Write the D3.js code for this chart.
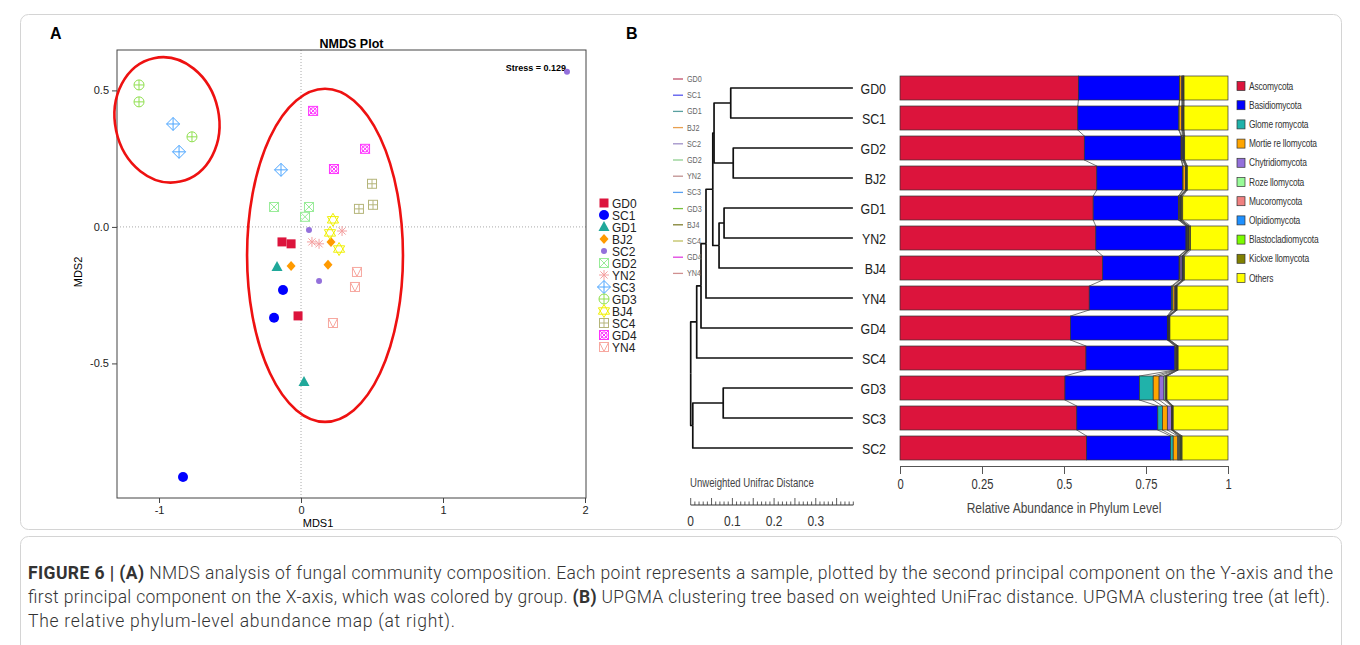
<!DOCTYPE html>
<html>
<head>
<meta charset="utf-8">
<script src="https://cdn.jsdelivr.net/npm/d3@7"></script>
<style>
  body { margin: 0; background: #fff; }
  svg { display: block; font-family: "Liberation Sans", Arial, sans-serif; }
  .cap { font-family: Roboto, "Liberation Sans", sans-serif; font-weight: 300; fill: #333; }
</style>
</head>
<body>
<svg id="fig" width="1360" height="645"></svg>
<script>
// ---------- panel A: NMDS ----------
const groups = ["GD0","SC1","GD1","BJ2","SC2","GD2","YN2","SC3","GD3","BJ4","SC4","GD4","YN4"];
const ptGroup = ["GD0","GD0","GD0","SC1","SC1","SC1","GD1","GD1","BJ2","BJ2","BJ2",
  "SC2","SC2","SC2","GD2","GD2","GD2","YN2","YN2","YN2","SC3","SC3","SC3",
  "GD3","GD3","GD3","BJ4","BJ4","BJ4","SC4","SC4","SC4","GD4","GD4","GD4","YN4","YN4","YN4"];
const ptMDS1 = [-0.134,-0.070,-0.021, -0.127,-0.190,-0.831, -0.169,0.021, 0.211,-0.070,0.190,
  0.056,0.127,1.873, -0.190,0.056,0.028, 0.289,0.077,0.127, -0.901,-0.859,-0.141,
  -1.141,-1.141,-0.768, 0.225,0.204,0.268, 0.500,0.408,0.507, 0.085,0.451,0.232, 0.394,0.380,0.225];
const ptMDS2 = [-0.055,-0.062,-0.326, -0.231,-0.333,-0.916, -0.147,-0.568, -0.055,-0.143,-0.139,
  -0.011,-0.198,0.568, 0.073,0.073,0.037, -0.015,-0.055,-0.062, 0.377,0.275,0.209,
  0.520,0.458,0.330, 0.026,-0.022,-0.081, 0.158,0.066,0.081, 0.425,0.286,0.212, -0.165,-0.220,-0.352];
const xTicksA = [-1, 0, 1, 2];
const yTicksA = [-0.5, 0, 0.5];
const stressLabel = "Stress = 0.129";
// hand-drawn group ellipses (data units)
const ellCx = [-0.944, 0.169], ellCy = [0.392, -0.104], ellRx = [0.366, 0.549], ellRy = [0.231, 0.610], ellRot = [-12, 0];

// ---------- panel B: tree + stacked bars ----------
const samples = ["GD0","SC1","GD2","BJ2","GD1","YN2","BJ4","YN4","GD4","SC4","GD3","SC3","SC2"];
const phyla = ["Ascomycota","Basidiomycota","Glomeromycota","Mortierellomycota","Chytridiomycota",
  "Rozellomycota","Mucoromycota","Olpidiomycota","Blastocladiomycota","Kickxellomycota","Others"];
const phylaLabels = ["Ascomycota","Basidiomycota","Glome romycota","Mortie re llomycota","Chytridiomycota",
  "Roze llomycota","Mucoromycota","Olpidiomycota","Blastocladiomycota","Kickxe llomycota","Others"];
const ascomycota        = [0.544,0.542,0.562,0.600,0.589,0.597,0.618,0.577,0.520,0.567,0.503,0.539,0.569];
const basidiomycota     = [0.308,0.308,0.295,0.262,0.260,0.275,0.233,0.251,0.295,0.271,0.227,0.247,0.256];
const glomeromycota     = [0.001,0.001,0.002,0.001,0.001,0.001,0.001,0.004,0.001,0.002,0.042,0.014,0.008];
const mortierellomycota = [0.006,0.008,0.002,0.007,0.002,0.002,0.002,0.006,0.001,0.002,0.018,0.015,0.014];
const chytridiomycota   = [0.002,0.002,0.002,0.001,0.002,0.002,0.006,0.002,0.001,0.001,0.015,0.013,0.002];
const rozellomycota     = [0.001,0.001,0.001,0.001,0.001,0.001,0.001,0.001,0.001,0.001,0.005,0.001,0.004];
const mucoromycota      = [0.001,0.001,0.001,0.001,0.001,0.001,0.001,0.001,0.001,0.001,0.001,0.001,0.001];
const olpidiomycota     = [0.001,0.001,0.001,0.001,0.001,0.001,0.001,0.001,0.001,0.001,0.001,0.001,0.002];
const blastocladiomycota= [0.001,0.001,0.001,0.001,0.001,0.001,0.001,0.001,0.001,0.001,0.001,0.001,0.003];
const kickxellomycota   = [0.001,0.001,0.001,0.001,0.004,0.005,0.003,0.001,0.001,0.001,0.001,0.001,0.001];
const others            = [0.134,0.134,0.132,0.124,0.138,0.114,0.133,0.155,0.177,0.152,0.186,0.167,0.140];
const phylumValues = [ascomycota, basidiomycota, glomeromycota, mortierellomycota, chytridiomycota,
  rozellomycota, mucoromycota, olpidiomycota, blastocladiomycota, kickxellomycota, others];
const xTicksB = [0, 0.25, 0.5, 0.75, 1];
const treeGroups = ["GD0","SC1","GD1","BJ2","SC2","GD2","YN2","SC3","GD3","BJ4","SC4","GD4","YN4"];
const distLabels = [0, 0.1, 0.2, 0.3];
// UPGMA tree, h = distance of each merge from the root
const treeData = {h: 0, children: [
  {h: 0.0144, children: [
    {h: 0.0247, children: [
      {h: 0.0367, children: [
        {h: 0.053, children: [
          {h: 0.056, children: [
            {h: 0.096, children: [{name: "GD0"}, {name: "SC1"}]},
            {h: 0.102, children: [{name: "GD2"}, {name: "BJ2"}]}
          ]},
          {h: 0.068, children: [
            {h: 0.080, children: [{name: "GD1"}, {name: "YN2"}]},
            {name: "BJ4"}
          ]}
        ]},
        {name: "YN4"}
      ]},
      {name: "GD4"}
    ]},
    {name: "SC4"}
  ]},
  {h: 0.005, children: [
    {h: 0.078, children: [{name: "GD3"}, {name: "SC3"}]},
    {name: "SC2"}
  ]}
]};
const leafDepth = 0.389;

// ---------- styles ----------
const groupColor = {GD0:"#dc143c", SC1:"#0000ff", GD1:"#20a89a", BJ2:"#ff9a00", SC2:"#9370db",
  GD2:"#98ec98", YN2:"#f4a0a0", SC3:"#4da6ff", GD3:"#90e050", BJ4:"#f0f000",
  SC4:"#b5b57a", GD4:"#ff33ff", YN4:"#f7a8a0"};
const groupShape = {GD0:"sq", SC1:"circ", GD1:"tri", BJ2:"dia", SC2:"dot", GD2:"sqX", YN2:"aster",
  SC3:"diaPlus", GD3:"circPlus", BJ4:"star", SC4:"sqPlus", GD4:"sqCircX", YN4:"sqTri"};
const treeColor = {GD0:"#c0506a", SC1:"#5555ee", GD1:"#5aa0a0", BJ2:"#e8a050", SC2:"#a090c8",
  GD2:"#90d090", YN2:"#c09090", SC3:"#5aa0f0", GD3:"#7ac040", BJ4:"#808030",
  SC4:"#c0c060", GD4:"#e040e0", YN4:"#d09090"};
const phylaColor = ["#dc143c","#0000ff","#20b2aa","#ffa500","#9370db","#98fb98","#f08080",
  "#1e90ff","#7cfc00","#808000","#ffff00"];
const NARROW = 0.8; // horizontal squeeze to mimic a narrow face

const svg = d3.select("#fig");

// narrow text helper: squeeze horizontally around its anchor point
function narrow(sel, x, y, size) {
  return sel.append("text").attr("transform", `translate(${x},${y}) scale(${NARROW},1)`)
    .attr("font-size", size);
}

// frames
svg.append("rect").attr("x", 20.5).attr("y", 14.5).attr("width", 1321).attr("height", 515)
  .attr("rx", 8).attr("fill", "none").attr("stroke", "#d4d4d4");
svg.append("rect").attr("x", 20.5).attr("y", 536.5).attr("width", 1321).attr("height", 120)
  .attr("rx", 8).attr("fill", "none").attr("stroke", "#d4d4d4");

svg.append("text").attr("x", 50).attr("y", 39).attr("font-size", 16).attr("font-weight", "bold").text("A");
svg.append("text").attr("x", 626).attr("y", 39).attr("font-size", 16).attr("font-weight", "bold").text("B");

// ===== Panel A =====
const x = d3.scaleLinear().domain([-1.296, 2.007]).range([117, 586]);
const y = d3.scaleLinear().domain([-0.993, 0.648]).range([498, 50]);
const gA = svg.append("g");

// dotted zero lines
gA.append("line").attr("x1", x(0)).attr("x2", x(0)).attr("y1", y.range()[1]).attr("y2", y.range()[0])
  .attr("stroke", "#aaa").attr("stroke-dasharray", "1,2");
gA.append("line").attr("x1", x.range()[0]).attr("x2", x.range()[1]).attr("y1", y(0)).attr("y2", y(0))
  .attr("stroke", "#aaa").attr("stroke-dasharray", "1,2");

// axes
const axB = gA.append("g").attr("transform", `translate(0,${y.range()[0]})`)
  .call(d3.axisBottom(x).tickValues(xTicksA).tickSize(5).tickSizeOuter(0).tickPadding(3).tickFormat(d => String(d)));
const axL = gA.append("g").attr("transform", `translate(${x.range()[0]},0)`)
  .call(d3.axisLeft(y).tickValues(yTicksA).tickSize(5).tickSizeOuter(0).tickPadding(3).tickFormat(d => d.toFixed(1)));
[axB, axL].forEach(a => {
  a.select(".domain").remove();
  a.selectAll("text").attr("font-size", 11).attr("fill", "#222").attr("font-family", "Liberation Sans, Arial, sans-serif");
  a.selectAll("line").attr("stroke", "#444");
});
gA.append("rect").attr("x", x.range()[0]).attr("y", y.range()[1])
  .attr("width", x.range()[1] - x.range()[0]).attr("height", y.range()[0] - y.range()[1])
  .attr("fill", "none").attr("stroke", "#444");

gA.append("text").attr("x", (x.range()[0] + x.range()[1]) / 2).attr("y", 48).attr("text-anchor", "middle")
  .attr("font-size", 12.5).attr("font-weight", "bold").text("NMDS Plot");
gA.append("text").attr("x", 318).attr("y", 527).attr("text-anchor", "middle").attr("font-size", 11).text("MDS1");
gA.append("text").attr("transform", "translate(82,272) rotate(-90)").attr("text-anchor", "middle")
  .attr("font-size", 11).text("MDS2");
gA.append("text").attr("x", 566).attr("y", 71).attr("text-anchor", "end").attr("font-size", 9)
  .attr("font-weight", "bold").text(stressLabel);

// ellipses
ellCx.forEach((cx, i) => {
  const px = x(cx), py = y(ellCy[i]);
  gA.append("ellipse").attr("cx", px).attr("cy", py)
    .attr("rx", x(cx + ellRx[i]) - px).attr("ry", py - y(ellCy[i] + ellRy[i]))
    .attr("transform", `rotate(${ellRot[i]},${px},${py})`)
    .attr("fill", "none").attr("stroke", "#ee1111").attr("stroke-width", 2.6);
});

function drawSymbol(g, shape, col) {
  const s = 4.5;
  const st = el => el.attr("fill", "none").attr("stroke", col).attr("stroke-width", 1);
  const line = (x1, y1, x2, y2) => st(g.append("line").attr("x1", x1).attr("y1", y1).attr("x2", x2).attr("y2", y2));
  const sq = () => st(g.append("rect").attr("x", -s).attr("y", -s).attr("width", 2 * s).attr("height", 2 * s));
  switch (shape) {
    case "sq": g.append("rect").attr("x", -s).attr("y", -s).attr("width", 2 * s).attr("height", 2 * s).attr("fill", col); break;
    case "circ": g.append("circle").attr("r", 5).attr("fill", col); break;
    case "tri": g.append("path").attr("d", "M0,-6L5.5,4L-5.5,4Z").attr("fill", col); break;
    case "dia": g.append("path").attr("d", "M0,-5L4.5,0L0,5L-4.5,0Z").attr("fill", col); break;
    case "dot": g.append("circle").attr("r", 3).attr("fill", col); break;
    case "sqX": sq(); line(-s, -s, s, s); line(-s, s, s, -s); break;
    case "aster": line(-5, 0, 5, 0); line(0, -5, 0, 5); line(-3.6, -3.6, 3.6, 3.6); line(-3.6, 3.6, 3.6, -3.6); break;
    case "diaPlus": st(g.append("path").attr("d", "M0,-6.5L6.5,0L0,6.5L-6.5,0Z")); line(-6.5, 0, 6.5, 0); line(0, -6.5, 0, 6.5); break;
    case "circPlus": st(g.append("circle").attr("r", 5)); line(-5, 0, 5, 0); line(0, -5, 0, 5); break;
    case "star": st(g.append("path").attr("d", "M0,-6.5L5.6,3.2L-5.6,3.2Z")); st(g.append("path").attr("d", "M0,6.5L5.6,-3.2L-5.6,-3.2Z")); break;
    case "sqPlus": sq(); line(-s, 0, s, 0); line(0, -s, 0, s); break;
    case "sqCircX": sq(); st(g.append("circle").attr("r", 3.2)); line(-s, -s, s, s); line(-s, s, s, -s); break;
    case "sqTri": sq(); st(g.append("path").attr("d", `M${-s},${-s}L0,${s}L${s},${-s}`)); break;
  }
}

ptGroup.forEach((grp, i) => {
  const g = gA.append("g").attr("transform", `translate(${x(ptMDS1[i])},${y(ptMDS2[i])})`);
  drawSymbol(g, groupShape[grp], groupColor[grp]);
});

// legend A
const legA = gA.append("g");
groups.forEach((grp, i) => {
  const gy = 203 + i * 12;
  const g = legA.append("g").attr("transform", `translate(604,${gy})`);
  drawSymbol(g, groupShape[grp], groupColor[grp]);
  legA.append("text").attr("x", 612).attr("y", gy + 4.5).attr("font-size", 12).attr("fill", "#222").text(grp);
});

// ===== Panel B =====
const yB = d3.scaleBand().domain(samples).range([73, 463]).paddingInner(0.2).paddingOuter(0.1);
const xB = d3.scaleLinear().domain([0, 1]).range([900, 1228]);
const gB = svg.append("g");

const rows = samples.map((s, i) => {
  const r = {sample: s};
  phyla.forEach((p, k) => { r[p] = phylumValues[k][i]; });
  return r;
});
const series = d3.stack().keys(phyla)(rows);

// connector lines between adjacent bars
const conn = gB.append("g").attr("stroke", "#555").attr("stroke-width", 0.8);
series.slice(0, -1).forEach(ser => {
  for (let i = 0; i < samples.length - 1; i++) {
    conn.append("line")
      .attr("x1", xB(ser[i][1])).attr("y1", yB(samples[i]) + yB.bandwidth())
      .attr("x2", xB(ser[i + 1][1])).attr("y2", yB(samples[i + 1]));
  }
});

series.forEach((ser, k) => {
  gB.append("g").attr("fill", phylaColor[k]).attr("stroke", "#333").attr("stroke-width", 0.7)
    .selectAll("rect").data(ser).join("rect")
    .attr("x", d => xB(d[0])).attr("width", d => xB(d[1]) - xB(d[0]))
    .attr("y", d => yB(d.data.sample)).attr("height", yB.bandwidth());
});

// sample labels
samples.forEach(s => {
  narrow(gB, 886, yB(s) + yB.bandwidth() / 2 + 5.5, 15.5)
    .attr("text-anchor", "end").attr("fill", "#222").text(s);
});

const axXB = gB.append("g").attr("transform", "translate(0,466)")
  .call(d3.axisBottom(xB).tickValues(xTicksB).tickSize(8).tickSizeOuter(0).tickPadding(5).tickFormat(d => String(d)));
axXB.selectAll("text").attr("font-size", 14).attr("fill", "#333")
  .attr("transform", `scale(${NARROW},1)`);
axXB.selectAll("line, path").attr("stroke", "#555");
narrow(gB, xB(0.5), 513, 15).attr("text-anchor", "middle").attr("fill", "#444")
  .text("Relative Abundance in Phylum Level");

// phyla legend
phyla.forEach((p, k) => {
  const ly = 86 + k * 19.2;
  gB.append("rect").attr("x", 1237).attr("y", ly - 4.5).attr("width", 8).attr("height", 9)
    .attr("fill", phylaColor[k]).attr("stroke", "#333").attr("stroke-width", 0.7);
  narrow(gB, 1249, ly + 3.5, 10.5).attr("fill", "#333").attr("letter-spacing", -0.2).text(phylaLabels[k]);
});

// tree
const dx = d3.scaleLinear().domain([0, 0.39]).range([690.7, 853.3]);
const root = d3.hierarchy(treeData);
root.eachAfter(n => {
  if (!n.children) {
    n.px = dx(leafDepth);
    n.py = yB(n.data.name) + yB.bandwidth() / 2;
  } else {
    n.px = dx(n.data.h);
    n.py = (n.children[0].py + n.children[n.children.length - 1].py) / 2;
  }
});
gB.append("g").attr("fill", "none").attr("stroke", "#111").attr("stroke-width", 1.7)
  .attr("stroke-linejoin", "round")
  .selectAll("path").data(root.links()).join("path")
  .attr("d", l => `M${l.source.px},${l.source.py}V${l.target.py}H${l.target.px}`);

// tree colour legend
treeGroups.forEach((grp, i) => {
  const ly = 79 + i * 16.2;
  gB.append("line").attr("x1", 673).attr("x2", 683).attr("y1", ly).attr("y2", ly)
    .attr("stroke", treeColor[grp]).attr("stroke-width", 1.3);
  narrow(gB, 687, ly + 3, 9).attr("fill", "#666").text(grp);
});

// distance ruler
const ruler = gB.append("g");
narrow(ruler, 690, 487, 12).attr("fill", "#444").text("Unweighted Unifrac Distance");
ruler.append("line").attr("x1", dx(0)).attr("x2", dx(0.39)).attr("y1", 505).attr("y2", 505)
  .attr("stroke", "#333").attr("stroke-width", 1);
d3.range(0, 40).forEach(t => {
  ruler.append("line").attr("x1", dx(t / 100)).attr("x2", dx(t / 100)).attr("y1", 505)
    .attr("y2", t % 5 === 0 ? 498 : 501.5).attr("stroke", "#333").attr("stroke-width", 0.8);
});
distLabels.forEach(v => {
  narrow(ruler, dx(v), 526, 15).attr("text-anchor", "middle").attr("fill", "#333").text(String(v));
});

// ===== Caption =====
const cap = svg.append("g");
const l1 = cap.append("text").attr("class", "cap").attr("x", 28).attr("y", 579).attr("font-size", 17.5)
  .attr("textLength", 1305).attr("lengthAdjust", "spacing");
l1.append("tspan").attr("font-weight", "bold").text("FIGURE 6 | (A)");
l1.append("tspan").text(" NMDS analysis of fungal community composition. Each point represents a sample, plotted by the second principal component on the Y-axis and the");
const l2 = cap.append("text").attr("class", "cap").attr("x", 28).attr("y", 603).attr("font-size", 17.5)
  .attr("textLength", 1302).attr("lengthAdjust", "spacing");
l2.append("tspan").text("first principal component on the X-axis, which was colored by group. ");
l2.append("tspan").attr("font-weight", "bold").text("(B)");
l2.append("tspan").text(" UPGMA clustering tree based on weighted UniFrac distance. UPGMA clustering tree (at left).");
cap.append("text").attr("class", "cap").attr("x", 28).attr("y", 627).attr("font-size", 17.5)
  .attr("textLength", 427).attr("lengthAdjust", "spacing")
  .text("The relative phylum-level abundance map (at right).");
</script>
</body>
</html>
